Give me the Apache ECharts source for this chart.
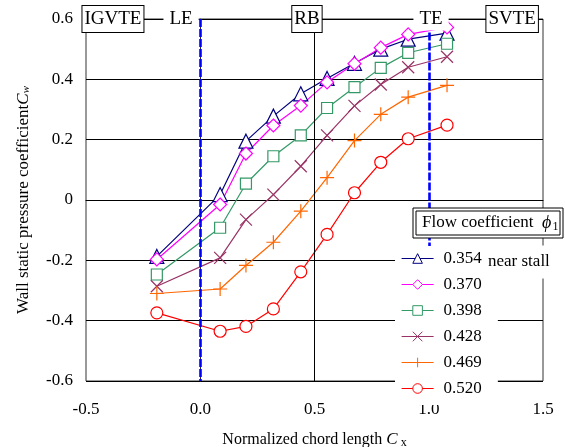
<!DOCTYPE html>
<html><head><meta charset="utf-8">
<script src="https://cdn.jsdelivr.net/npm/echarts@6/dist/echarts.min.js"></script>
<style>html,body{margin:0;padding:0;background:#fff}#c{width:565px;height:447px}</style>
</head><body><div id="c"></div>
<script>
const FONT = "'Liberation Serif','Times New Roman',Times,serif";

// chord positions (normalized chord length Cx)
const xPositions = [-0.19, 0.087, 0.2, 0.32, 0.44, 0.555, 0.675, 0.79, 0.91, 1.08];

// flow coefficient names
const seriesNames = ['0.354', '0.370', '0.398', '0.428', '0.469', '0.520'];

// wall static pressure coefficient Cw
const phi354 = [-0.187, 0.018, 0.195, 0.278, 0.352, 0.403, 0.453, 0.500, 0.533, 0.553];
const phi370 = [-0.197, -0.015, 0.154, 0.247, 0.313, 0.390, 0.452, 0.505, 0.549, 0.572];
const phi398 = [-0.247, -0.092, 0.054, 0.145, 0.214, 0.305, 0.374, 0.438, 0.488, 0.518];
const phi428 = [-0.286, -0.192, -0.065, 0.018, 0.112, 0.214, 0.312, 0.383, 0.440, 0.475];
const phi469 = [-0.310, -0.295, -0.217, -0.140, -0.037, 0.074, 0.197, 0.284, 0.341, 0.380];
const phi520 = [-0.374, -0.435, -0.419, -0.361, -0.238, -0.114, 0.024, 0.125, 0.203, 0.248];

// axis ticks
const xTicks = [-0.5, 0.0, 0.5, 1.0, 1.5];
const yTicks = [-0.6, -0.4, -0.2, 0, 0.2, 0.4, 0.6];

// blade-row reference positions
const LE = 0.0, RB = 0.5, TE = 1.0;
const regionLabels = [
  { text: 'IGVTE', x: -0.382, box: true },
  { text: 'LE', x: -0.084, box: false },
  { text: 'RB', x: 0.467, box: true },
  { text: 'TE', x: 1.01, box: false },
  { text: 'SVTE', x: 1.365, box: true }
];

const colors = ['#000080', '#FF00FF', '#339966', '#993366', '#FF6600', '#FF0000'];
const symbols = ['triangle', 'diamond', 'rect',
  'path://M0,0L10,10M10,0L0,10', 'path://M5,0L5,10M0,5L10,5', 'circle'];
const hollow = [true, true, true, false, false, true];
const symbolSizes = [14, 13, 11, 12, 14, 12];
const allValues = [phi354, phi370, phi398, phi428, phi469, phi520];

const series = allValues.map((vals, i) => ({
  name: seriesNames[i],
  type: 'line',
  data: vals.map((v, k) => [xPositions[k], v]),
  symbol: symbols[i],
  symbolSize: symbolSizes[i],
  showAllSymbol: true,
  lineStyle: { color: colors[i], width: 1.2 },
  itemStyle: { color: hollow[i] ? '#fff' : colors[i], borderColor: colors[i], borderWidth: 1.2 },
  z: 3,
  animation: false
}));

const yMin = yTicks[0], yMax = yTicks[yTicks.length - 1];

series.push({
  name: 'annot',
  type: 'line',
  data: [],
  silent: true,
  animation: false,
  z: 2,
  markLine: {
    silent: true,
    symbol: ['none', 'none'],
    label: { show: false },
    animation: false,
    data: [
      [{ coord: [RB, yMax], lineStyle: { color: '#000', width: 1, type: 'solid' } }, { coord: [RB, yMin] }],
      [{ coord: [LE, yMax], lineStyle: { color: '#333', width: 1, type: 'solid' } }, { coord: [LE, yMin] }],
      [{ coord: [LE, yMax], lineStyle: { color: '#0000FF', width: 2.6, type: [8, 2] } }, { coord: [LE, yMin] }],
      [{ coord: [TE, 0.555], lineStyle: { color: '#0000FF', width: 2.6, type: [8, 2] } }, { coord: [TE, yMin] }]
    ]
  },
  markPoint: {
    silent: true,
    animation: false,
    symbol: 'circle',
    symbolSize: 1,
    itemStyle: { color: 'rgba(0,0,0,0)' },
    data: regionLabels.map(r => ({
      coord: [r.x, yMax],
      label: {
        show: true,
        position: 'inside',
        formatter: r.text,
        fontFamily: FONT,
        fontSize: 19,
        color: '#000',
        backgroundColor: '#fff',
        borderColor: r.box ? '#000' : 'transparent',
        borderWidth: r.box ? 1 : 0,
        padding: r.box ? [4, 2, 3, 2] : [2, 6, 2, 6]
      }
    }))
  }
});

const option = {
  backgroundColor: '#fff',
  animation: false,
  grid: { left: 86, right: 22, top: 19, bottom: 66, show: true, borderColor: '#333', borderWidth: 1,
    backgroundColor: 'transparent', outerBoundsMode: 'none', containLabel: false },
  xAxis: {
    type: 'value', min: xTicks[0], max: xTicks[xTicks.length - 1], interval: 0.5,
    axisLine: { show: true, lineStyle: { color: '#000', width: 1 } },
    axisTick: { show: false },
    splitLine: { show: false },
    axisLabel: { fontFamily: FONT, fontSize: 17, color: '#000', margin: 20, formatter: v => v.toFixed(1) },
    name: '{n|Normalized chord length }{i|C}{s| x}',
    nameLocation: 'middle', nameGap: 50,
    nameTextStyle: {
      fontFamily: FONT, fontSize: 16, color: '#000',
      rich: {
        n: { fontFamily: FONT, fontSize: 16, color: '#000' },
        i: { fontFamily: FONT, fontSize: 17, fontStyle: 'italic', color: '#000' },
        s: { fontFamily: FONT, fontSize: 12, color: '#000', padding: [6, 0, 0, 0] }
      }
    }
  },
  yAxis: {
    type: 'value', min: yMin, max: yMax, interval: 0.2,
    axisLine: { show: true, lineStyle: { color: '#555', width: 1 } },
    axisTick: { show: true, inside: false, length: 5, lineStyle: { color: '#000' } },
    splitLine: { show: true, lineStyle: { color: '#000', width: 1 } },
    axisLabel: { fontFamily: FONT, fontSize: 17, color: '#000', margin: 13,
      formatter: v => (Math.abs(v) < 1e-9 ? '0' : v.toFixed(1)) },
    name: '{n|Wall static pressure coefficient}{i|C}{s|w}',
    nameLocation: 'middle', nameGap: 54,
    nameTextStyle: {
      fontFamily: FONT, fontSize: 17, color: '#000',
      rich: {
        n: { fontFamily: FONT, fontSize: 17, color: '#000' },
        i: { fontFamily: FONT, fontSize: 17, fontStyle: 'italic', color: '#000' },
        s: { fontFamily: FONT, fontSize: 11, fontStyle: 'italic', color: '#000', padding: [6, 0, 0, 0] }
      }
    }
  },
  legend: {
    data: seriesNames,
    orient: 'vertical',
    left: 395, top: 246,
    itemWidth: 32, itemHeight: 12, itemGap: 9,
    padding: [4, 16, 8, 6],
    backgroundColor: '#fff',
    itemStyle: { borderWidth: 1 },
    lineStyle: { width: 1.2 },
    textStyle: { fontFamily: FONT, fontSize: 17, color: '#000', padding: [0, 0, 0, 5] },
    selectedMode: false,
    z: 10
  },
  graphic: [
    { type: 'rect', z: 100, shape: { x: 413, y: 208, width: 150, height: 30 },
      style: { fill: '#fff', stroke: '#000', lineWidth: 1 } },
    { type: 'rect', z: 101, shape: { x: 416, y: 211, width: 144, height: 24 },
      style: { fill: '#fff', stroke: '#000', lineWidth: 1 } },
    { type: 'text', z: 102, x: 422, y: 223,
      style: {
        text: '{n|Flow coefficient  }{i|ϕ}{s|1}',
        verticalAlign: 'middle',
        rich: {
          n: { fontFamily: FONT, fontSize: 17, fill: '#000' },
          i: { fontFamily: FONT, fontSize: 18, fontStyle: 'italic', fill: '#000' },
          s: { fontFamily: FONT, fontSize: 12, fill: '#000', padding: [7, 0, 0, 1] }
        }
      } },
    { type: 'text', z: 102, x: 488, y: 262,
      style: { text: 'near stall', fontFamily: FONT, fontSize: 17, fill: '#000',
        verticalAlign: 'middle', backgroundColor: '#fff', padding: [8, 0, 8, 0] } }
  ],
  series: series
};

const chart = echarts.init(document.getElementById('c'), null, { renderer: 'canvas' });
chart.setOption(option);
</script>
</body></html>
